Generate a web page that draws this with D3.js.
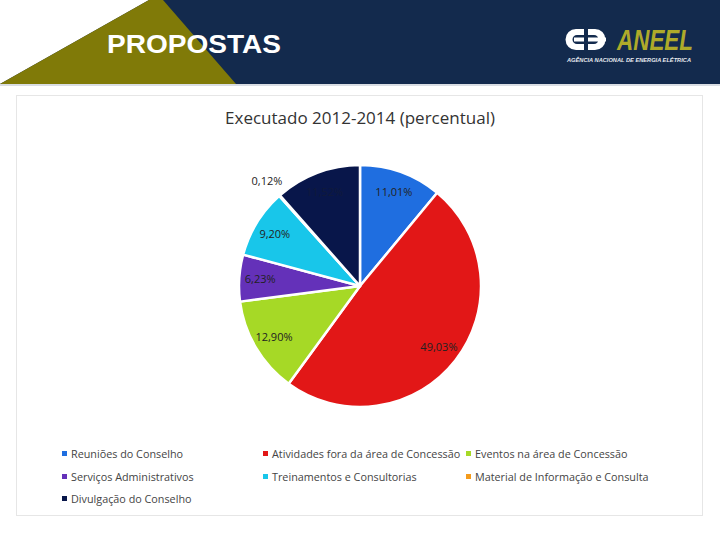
<!DOCTYPE html>
<html>
<head>
<meta charset="utf-8">
<script src="https://cdn.jsdelivr.net/npm/d3@7"></script>
<style>
  body { margin: 0; background: #fff; }
  svg { display: block; }
</style>
</head>
<body>
<script>
// data
var categories = ["Reuniões do Conselho", "Atividades fora da área de Concessão", "Eventos na área de Concessão",
                  "Serviços Administrativos", "Treinamentos e Consultorias", "Material de Informação e Consulta",
                  "Divulgação do Conselho"];
var values = [11.01, 49.03, 12.90, 6.23, 9.20, 0.12, 11.51];
var labels = ["11,01%", "49,03%", "12,90%", "6,23%", "9,20%", "0,12%", "11,52%"];
var colors = ["#1f6ee0", "#e21717", "#a6d926", "#6431b9", "#18c6ea", "#f49b1c", "#08164a"];

var w = 720, h = 540;

var svg = d3.select("body").append("svg")
    .attr("width", w)
    .attr("height", h);

// header band
svg.append("rect").attr("x", 0).attr("y", 0).attr("width", w).attr("height", 84).attr("fill", "#132a4d");
svg.append("path").attr("d", "M0,0 L149,0 L0,84 Z").attr("fill", "#ffffff");
svg.append("path").attr("d", "M0,84 L149,0 L163,0 L236,84 Z").attr("fill", "#807a08");
svg.append("rect").attr("x", 0).attr("y", 84).attr("width", w).attr("height", 2).attr("fill", "#d9dde3");

svg.append("text")
    .attr("x", 107).attr("y", 53)
    .attr("font-family", "Liberation Sans, Arial, sans-serif")
    .attr("font-weight", "bold")
    .attr("font-size", 25)
    .attr("textLength", 174)
    .attr("lengthAdjust", "spacingAndGlyphs")
    .attr("fill", "#ffffff")
    .text("PROPOSTAS");

// logo
var logo = svg.append("g");
logo.append("path")
    .attr("d", "M584,29 L576,29 A10.5,10.5 0 0 0 576,50 L584,50 L584,44 L577,44 A4.5,4.5 0 0 1 577,35 L584,35 Z M574,37.5 L584,37.5 L584,41.5 L574,41.5 Z")
    .attr("fill", "#ffffff");
logo.append("path")
    .attr("d", "M588,29 L595,29 A10.5,10.5 0 0 1 595,50 L588,50 L588,44 L594,44 A4.5,4.5 0 0 0 594,35 L588,35 Z M588,37.5 L606,37.5 L606,41.5 L588,41.5 Z")
    .attr("fill", "#ffffff");
logo.append("text")
    .attr("x", 617).attr("y", 50)
    .attr("font-family", "Liberation Sans, Arial, sans-serif")
    .attr("font-weight", "bold")
    .attr("font-style", "italic")
    .attr("font-size", 30)
    .attr("textLength", 76)
    .attr("lengthAdjust", "spacingAndGlyphs")
    .attr("fill", "#aeaa2a")
    .text("ANEEL");
logo.append("text")
    .attr("x", 567).attr("y", 62)
    .attr("font-family", "Liberation Sans, Arial, sans-serif")
    .attr("font-weight", "bold")
    .attr("font-style", "italic")
    .attr("font-size", 5.5)
    .attr("textLength", 124)
    .attr("lengthAdjust", "spacingAndGlyphs")
    .attr("fill", "#e8ebf0")
    .text("AGÊNCIA NACIONAL DE ENERGIA ELÉTRICA");

// chart frame
svg.append("rect")
    .attr("x", 16.5).attr("y", 95.5).attr("width", 686).attr("height", 420)
    .attr("fill", "#ffffff")
    .attr("stroke", "#e6e6e6");

svg.append("text")
    .attr("x", 360).attr("y", 124)
    .attr("text-anchor", "middle")
    .attr("font-family", "Open Sans, sans-serif")
    .attr("font-size", 17)
    .attr("fill", "#333333")
    .text("Executado 2012-2014 (percentual)");

// pie
var cx = 360, cy = 286, r = 121;
var pie = d3.pie().sort(null).value(function(d) { return d; });
var arcs = pie(values);
var arc = d3.arc().innerRadius(0).outerRadius(r);

var g = svg.append("g").attr("transform", "translate(" + cx + "," + cy + ")");

g.selectAll("path")
    .data(arcs)
    .enter()
    .append("path")
    .attr("d", arc)
    .attr("fill", function(d, i) { return colors[i]; })
    .attr("stroke", "#ffffff")
    .attr("stroke-width", 2.5)
    .attr("stroke-linejoin", "round");

g.selectAll("text.lbl")
    .data(arcs)
    .enter()
    .append("text")
    .attr("class", "lbl")
    .attr("transform", function(d) {
        var lr = d.value < 1 ? 140 : 100;
        var a = (d.startAngle + d.endAngle) / 2;
        return "translate(" + (Math.sin(a) * lr) + "," + (-Math.cos(a) * lr) + ")";
    })
    .attr("dy", "0.35em")
    .attr("text-anchor", "middle")
    .attr("font-family", "Open Sans, sans-serif")
    .attr("font-size", 11)
    .attr("fill", function(d, i) { return i === 6 ? "#101a3a" : "#222222"; })
    .text(function(d, i) { return labels[i]; });

// legend
var colX = [62, 263, 466];
var rowY = [454, 477, 499];
var leg = svg.selectAll("g.leg")
    .data(categories)
    .enter()
    .append("g")
    .attr("class", "leg")
    .attr("transform", function(d, i) {
        return "translate(" + colX[i % 3] + "," + rowY[Math.floor(i / 3)] + ")";
    });
leg.append("rect")
    .attr("x", 0).attr("y", -3)
    .attr("width", 5).attr("height", 5)
    .attr("fill", function(d, i) { return colors[i]; });
leg.append("text")
    .attr("x", 9).attr("y", 0)
    .attr("dy", "0.35em")
    .attr("font-family", "Open Sans, sans-serif")
    .attr("font-size", 10.8)
    .attr("fill", "#444444")
    .text(function(d) { return d; });
</script>
</body>
</html>
